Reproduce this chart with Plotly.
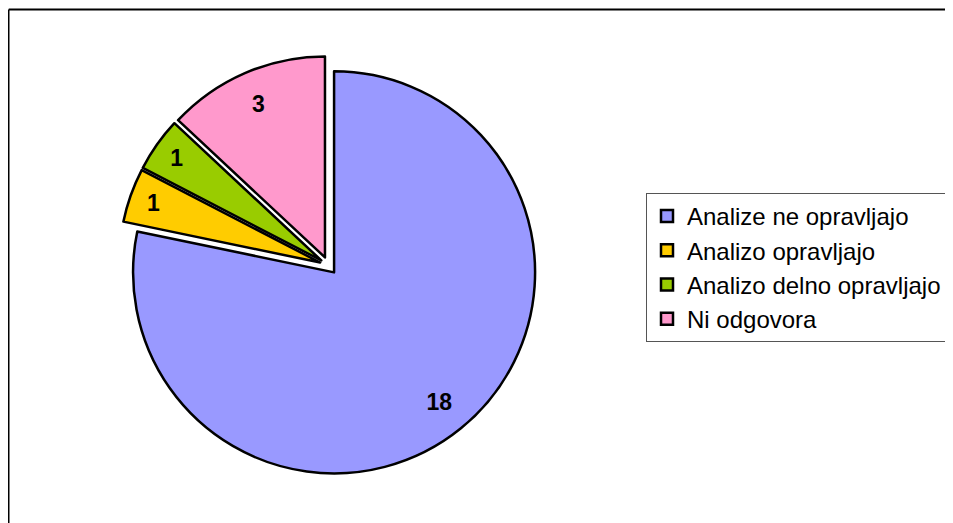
import plotly.graph_objects as go

labels = ["Analize ne opravljajo", "Analizo opravljajo", "Analizo delno opravljajo", "Ni odgovora"]
values = [18, 1, 1, 3]
colors = ["#9999FF", "#FFCC00", "#99CC00", "#FF99CC"]

# page body has an 8px margin; the figure is sized to the visible area
OFF = 8
W, H = 953 - OFF, 523 - OFF
pull = 0.044
cx, cy, r = 328.5 - OFF, 265.5 - OFF, 201
half = r * (1 + pull)
dom = dict(x=[(cx - half) / W, (cx + half) / W],
           y=[1 - (cy + half) / H, 1 - (cy - half) / H])
FONT = "Liberation Sans, Arial"

# slices
fig = go.Figure(go.Pie(
    labels=labels,
    values=values,
    sort=False,
    direction="clockwise",
    rotation=0,
    pull=[pull] * len(values),
    marker=dict(colors=colors, line=dict(color="black", width=2.5)),
    textinfo="none",
    domain=dom,
    hoverinfo="label+value",
))

# value labels (same data, ring layout pushes them towards the rim)
fig.add_trace(go.Pie(
    labels=labels,
    values=values,
    sort=False,
    direction="clockwise",
    rotation=0,
    pull=[pull] * len(values),
    hole=0.66,
    marker=dict(colors=["rgba(0,0,0,0)"] * len(values), line=dict(width=0)),
    textinfo="value",
    textposition="inside",
    insidetextorientation="horizontal",
    textfont=dict(family=FONT, size=23, color="black", weight="bold"),
    domain=dom,
    showlegend=False,
    hoverinfo="skip",
))

fig.update_layout(
    width=W, height=H,
    margin=dict(l=0, r=0, t=0, b=0),
    paper_bgcolor="white",
    plot_bgcolor="white",
    font=dict(family=FONT, color="black"),
    legend=dict(
        x=(646 - OFF) / W, y=1 - (193 - OFF) / H, xanchor="left", yanchor="top",
        font=dict(size=24, family=FONT, color="black"),
        bordercolor="#555555", borderwidth=1, bgcolor="white",
        entrywidth=320, entrywidthmode="pixels",
        itemclick=False,
    ),
    shapes=[
        dict(type="line", xref="paper", yref="paper",
             x0=0.75 / W, x1=1.05, y0=1 - 1.5 / H, y1=1 - 1.5 / H,
             line=dict(color="black", width=2)),
        dict(type="line", xref="paper", yref="paper",
             x0=0.75 / W, x1=0.75 / W, y0=1 - 1.5 / H, y1=-0.05,
             line=dict(color="black", width=1.5)),
    ],
)

fig.write_html("out.html")
